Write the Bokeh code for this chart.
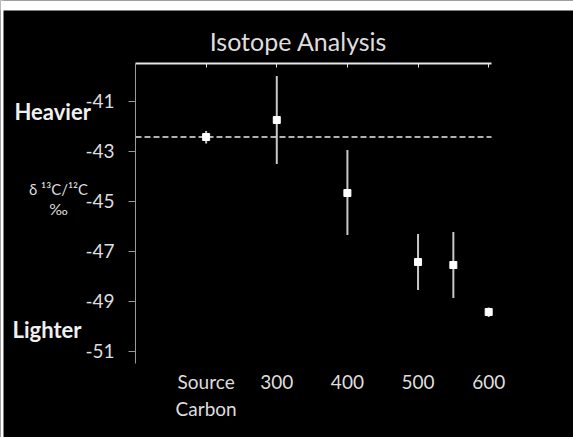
from bokeh.plotting import figure
from bokeh.models import (Range1d, LinearAxis, FixedTicker, Label,
                          ColumnDataSource, BoxAnnotation)
from bokeh.embed import file_html
from bokeh.resources import INLINE

# ---- data ----
temps = [200, 300, 400, 500, 550, 600]
delta = [-42.44, -41.76, -44.68, -47.44, -47.56, -49.44]
err_low = [-42.70, -43.52, -46.36, -48.56, -48.88, -49.64]
err_high = [-42.20, -40.00, -42.96, -46.32, -46.24, -49.26]
source_mean = -42.44

x_tick_values = [200, 300, 400, 500, 600]
x_tick_labels = ["Source\nCarbon", "300", "400", "500", "600"]
y_tick_values = [-41, -43, -45, -47, -49, -51]
y_tick_labels = ["-41", "-43", "-45", "-47", "-49", "-51"]
x_lo, x_hi = 100, 604          # plotted x extent
y_lo, y_hi = -51.5, -39.5      # plotted y extent

title_text = "Isotope Analysis"
heavier_text = "Heavier"
lighter_text = "Lighter"
ylab1 = "δ ¹³C/¹²C"
ylab2 = "‰"

FONT = "Lato"
TXT = "#dedede"
W, H = 573, 437

# ---- layout: plot area in canvas pixels ----
PL, PT, PW, PH = 135, 63, 356, 300
sx = PW / (x_hi - x_lo)
sy = PH / (y_hi - y_lo)
x_start = x_lo - PL / sx
x_end = x_lo + (W - PL) / sx
y_top = y_hi + PT / sy
y_bot = y_hi - (H - PT) / sy


def dx(px):
    return x_start + px / sx


def dy(py):
    return y_top - py / sy


p = figure(width=W, height=H, output_backend="svg", toolbar_location=None,
           x_range=Range1d(x_start, x_end), y_range=Range1d(y_bot, y_top),
           x_axis_location=None, y_axis_location=None,
           min_border_left=0, min_border_right=0,
           min_border_top=0, min_border_bottom=0)
p.background_fill_color = "#000000"
p.border_fill_color = "#000000"
p.outline_line_color = None
p.xgrid.visible = False
p.ygrid.visible = False

# white paper edge of the scanned picture
p.add_layout(BoxAnnotation(top=y_top, bottom=dy(10), fill_color="#ffffff",
                           fill_alpha=1, line_color=None))
p.add_layout(BoxAnnotation(right=dx(3), fill_color="#ffffff",
                           fill_alpha=1, line_color=None))

# top axis line with small inward ticks
top = LinearAxis(ticker=FixedTicker(ticks=x_tick_values), fixed_location=y_hi,
                 bounds=(x_lo, x_hi))
top.axis_line_color = "#e8e8e8"
top.axis_line_width = 2
top.major_tick_in = 4
top.major_tick_out = 0
top.major_tick_line_color = "#e8e8e8"
top.minor_tick_line_color = None
top.major_label_text_alpha = 0
top.major_label_text_font_size = "1px"
p.add_layout(top, "above")

# bottom labels only
bot = LinearAxis(ticker=FixedTicker(ticks=x_tick_values), fixed_location=y_lo)
bot.axis_line_color = None
bot.major_tick_line_color = None
bot.minor_tick_line_color = None
bot.major_label_overrides = {v: s for v, s in zip(x_tick_values, x_tick_labels)}
bot.major_label_text_font = FONT
bot.major_label_text_font_size = "19px"
bot.major_label_text_color = TXT
bot.major_label_standoff = 0
p.add_layout(bot, "below")

# left axis
left = LinearAxis(ticker=FixedTicker(ticks=y_tick_values), fixed_location=x_lo,
                  bounds=(y_lo, y_hi))
left.axis_line_color = "#9a9a9a"
left.axis_line_width = 1
left.major_tick_in = 0
left.major_tick_out = 7
left.major_tick_line_color = "#9a9a9a"
left.minor_tick_line_color = None
left.major_label_overrides = {v: s for v, s in zip(y_tick_values, y_tick_labels)}
left.major_label_text_font = FONT
left.major_label_text_font_size = "19px"
left.major_label_text_color = TXT
left.major_label_standoff = 14
p.add_layout(left, "left")

# dashed source-carbon reference line
p.segment(x0=[x_lo], y0=[source_mean], x1=[x_hi], y1=[source_mean],
          line_color="#b0b0b0", line_width=2, line_dash="6 3")

src = ColumnDataSource(dict(x=temps, y=delta, lo=err_low, hi=err_high))
p.segment(x0="x", y0="lo", x1="x", y1="hi", source=src,
          line_color="#c8c8c8", line_width=2)
p.scatter(x="x", y="y", source=src, marker="square", size=7,
          fill_color="#ffffff", line_color="#ffffff")


def lab(px, py, text, **kw):
    return Label(x=dx(px), y=dy(py), text=text, text_font=FONT,
                 text_baseline="middle", **kw)


p.add_layout(lab(298, 40, title_text, text_align="center",
                 text_font_size="25px", text_color=TXT))
p.add_layout(lab(14, 111, heavier_text, text_align="left",
                 text_font_style="bold", text_font_size="22px",
                 text_color="#f0f0f0"))
p.add_layout(lab(12, 329, lighter_text, text_align="left",
                 text_font_style="bold", text_font_size="22px",
                 text_color="#f0f0f0"))
p.add_layout(lab(58, 188, ylab1, text_align="center",
                 text_font_size="15px", text_color=TXT))
p.add_layout(lab(58, 208, ylab2, text_align="center",
                 text_font_size="16px", text_color=TXT))

open("out.html", "w").write(file_html(p, INLINE))
